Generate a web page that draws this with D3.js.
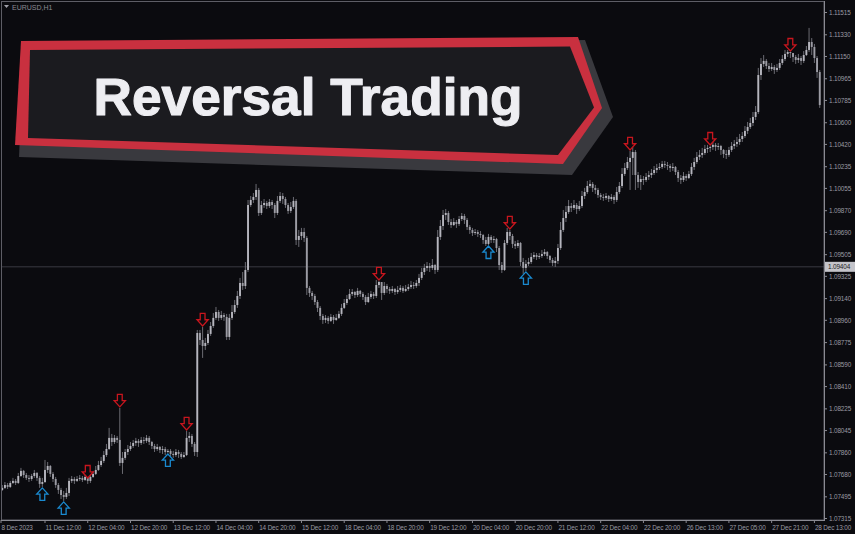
<!DOCTYPE html>
<html><head><meta charset="utf-8">
<script src="https://cdn.jsdelivr.net/npm/d3@7"></script>
<style>html,body{margin:0;padding:0;background:#0b0b0f;overflow:hidden}</style>
</head><body><svg id="c" width="855" height="534"></svg>
<script>
const symbolLabel = "EURUSD,H1";
const titleText = "Reversal Trading";

const opens = [1.07552,
1.07569,1.07593,1.07577,1.07610,1.07627,1.07610,1.07668,1.07710,1.07676,1.07652,
1.07643,1.07668,1.07693,1.07652,1.07602,1.07618,1.07718,1.07751,1.07685,1.07643,
1.07593,1.07552,1.07510,1.07494,1.07527,1.07627,1.07643,1.07627,1.07643,1.07652,
1.07635,1.07660,1.07627,1.07660,1.07685,1.07718,1.07759,1.07793,1.07842,1.07892,
1.07984,1.07950,1.07984,1.07967,1.07776,1.07818,1.07867,1.07892,1.07917,1.07942,
1.07959,1.07942,1.07967,1.07959,1.07984,1.07950,1.07917,1.07892,1.07909,1.07884,
1.07892,1.07867,1.07876,1.07851,1.07842,1.07867,1.07851,1.07826,1.07842,1.07984,
1.08000,1.07934,1.07867,1.08855,1.08797,1.08747,1.08772,1.08847,1.08913,1.08980,
1.09029,1.08980,1.09004,1.08988,1.08822,1.08980,1.09029,1.09087,1.09162,1.09270,
1.09245,1.09378,1.09917,1.09959,1.09984,1.10042,1.09851,1.09917,1.09934,1.09909,
1.09942,1.09917,1.09851,1.09951,1.09992,1.09967,1.09917,1.09868,1.09901,1.09951,
1.09627,1.09660,1.09693,1.09644,1.09229,1.09187,1.09162,1.09112,1.09063,1.08996,
1.08963,1.08980,1.08955,1.08988,1.08963,1.08980,1.09013,1.09063,1.09104,1.09137,
1.09179,1.09195,1.09170,1.09204,1.09179,1.09154,1.09112,1.09154,1.09179,1.09162,
1.09253,1.09278,1.09187,1.09245,1.09220,1.09204,1.09220,1.09195,1.09212,1.09229,
1.09204,1.09220,1.09237,1.09253,1.09245,1.09270,1.09312,1.09361,1.09395,1.09411,
1.09395,1.09419,1.09378,1.09652,1.09743,1.09834,1.09851,1.09776,1.09751,1.09776,
1.09760,1.09801,1.09826,1.09793,1.09735,1.09710,1.09685,1.09693,1.09677,1.09668,
1.09627,1.09594,1.09652,1.09627,1.09635,1.09560,1.09419,1.09378,1.09602,1.09693,
1.09660,1.09594,1.09577,1.09602,1.09444,1.09395,1.09428,1.09444,1.09486,1.09502,
1.09486,1.09494,1.09510,1.09527,1.09494,1.09461,1.09436,1.09453,1.09560,1.09710,
1.09809,1.09859,1.09909,1.09893,1.09917,1.09884,1.09909,1.09992,1.10025,1.10075,
1.10092,1.10059,1.10042,1.10000,1.09984,1.09976,1.09992,1.09967,1.09984,1.09959,
1.10025,1.10075,1.10175,1.10224,1.10274,1.10308,1.10357,1.10166,1.10108,1.10133,
1.10125,1.10150,1.10166,1.10183,1.10208,1.10224,1.10233,1.10258,1.10249,1.10241,
1.10224,1.10233,1.10191,1.10141,1.10125,1.10158,1.10141,1.10174,1.10233,1.10274,
1.10316,1.10333,1.10349,1.10382,1.10391,1.10399,1.10416,1.10399,1.10407,1.10374,
1.10341,1.10333,1.10374,1.10407,1.10424,1.10440,1.10465,1.10490,1.10532,1.10565,
1.10598,1.10648,1.10689,1.10996,1.11088,1.11113,1.11071,1.11046,1.11063,1.11038,
1.11055,1.11096,1.11129,1.11171,1.11187,1.11179,1.11146,1.11121,1.11137,1.11113,
1.11162,1.11204,1.11270,1.11229,1.11137,1.11021];

const closes = [
1.07569,1.07593,1.07577,1.07610,1.07627,1.07610,1.07668,1.07710,1.07676,1.07652,
1.07643,1.07668,1.07693,1.07652,1.07602,1.07618,1.07718,1.07751,1.07685,1.07643,
1.07593,1.07552,1.07510,1.07494,1.07527,1.07627,1.07643,1.07627,1.07643,1.07652,
1.07635,1.07660,1.07627,1.07660,1.07685,1.07718,1.07759,1.07793,1.07842,1.07892,
1.07984,1.07950,1.07984,1.07967,1.07776,1.07818,1.07867,1.07892,1.07917,1.07942,
1.07959,1.07942,1.07967,1.07959,1.07984,1.07950,1.07917,1.07892,1.07909,1.07884,
1.07892,1.07867,1.07876,1.07851,1.07842,1.07867,1.07851,1.07826,1.07842,1.07984,
1.08000,1.07934,1.07867,1.08855,1.08797,1.08747,1.08772,1.08847,1.08913,1.08980,
1.09029,1.08980,1.09004,1.08988,1.08822,1.08980,1.09029,1.09087,1.09162,1.09270,
1.09245,1.09378,1.09917,1.09959,1.09984,1.10042,1.09851,1.09917,1.09934,1.09909,
1.09942,1.09917,1.09851,1.09951,1.09992,1.09967,1.09917,1.09868,1.09901,1.09951,
1.09627,1.09660,1.09693,1.09644,1.09229,1.09187,1.09162,1.09112,1.09063,1.08996,
1.08963,1.08980,1.08955,1.08988,1.08963,1.08980,1.09013,1.09063,1.09104,1.09137,
1.09179,1.09195,1.09170,1.09204,1.09179,1.09154,1.09112,1.09154,1.09179,1.09162,
1.09253,1.09278,1.09187,1.09245,1.09220,1.09204,1.09220,1.09195,1.09212,1.09229,
1.09204,1.09220,1.09237,1.09253,1.09245,1.09270,1.09312,1.09361,1.09395,1.09411,
1.09395,1.09419,1.09378,1.09652,1.09743,1.09834,1.09851,1.09776,1.09751,1.09776,
1.09760,1.09801,1.09826,1.09793,1.09735,1.09710,1.09685,1.09693,1.09677,1.09668,
1.09627,1.09594,1.09652,1.09627,1.09635,1.09560,1.09419,1.09378,1.09602,1.09693,
1.09660,1.09594,1.09577,1.09602,1.09444,1.09395,1.09428,1.09444,1.09486,1.09502,
1.09486,1.09494,1.09510,1.09527,1.09494,1.09461,1.09436,1.09453,1.09560,1.09710,
1.09809,1.09859,1.09909,1.09893,1.09917,1.09884,1.09909,1.09992,1.10025,1.10075,
1.10092,1.10059,1.10042,1.10000,1.09984,1.09976,1.09992,1.09967,1.09984,1.09959,
1.10025,1.10075,1.10175,1.10224,1.10274,1.10308,1.10357,1.10166,1.10108,1.10133,
1.10125,1.10150,1.10166,1.10183,1.10208,1.10224,1.10233,1.10258,1.10249,1.10241,
1.10224,1.10233,1.10191,1.10141,1.10125,1.10158,1.10141,1.10174,1.10233,1.10274,
1.10316,1.10333,1.10349,1.10382,1.10391,1.10399,1.10416,1.10399,1.10407,1.10374,
1.10341,1.10333,1.10374,1.10407,1.10424,1.10440,1.10465,1.10490,1.10532,1.10565,
1.10598,1.10648,1.10689,1.10996,1.11088,1.11113,1.11071,1.11046,1.11063,1.11038,
1.11055,1.11096,1.11129,1.11171,1.11187,1.11179,1.11146,1.11121,1.11137,1.11113,
1.11162,1.11204,1.11270,1.11229,1.11137,1.11021,1.10747];

const highs = [
1.07593,1.07618,1.07610,1.07627,1.07652,1.07643,1.07693,1.07735,1.07718,1.07693,
1.07676,1.07685,1.07718,1.07701,1.07668,1.07652,1.07801,1.07784,1.07759,1.07701,
1.07660,1.07610,1.07569,1.07544,1.07569,1.07652,1.07668,1.07660,1.07668,1.07676,
1.07668,1.07685,1.07643,1.07676,1.07710,1.07751,1.07793,1.07826,1.07876,1.07934,
1.08067,1.08017,1.08008,1.08000,1.08233,1.07867,1.07892,1.07925,1.07950,1.07967,
1.07984,1.07975,1.07992,1.07992,1.08008,1.08000,1.07959,1.07934,1.07934,1.07917,
1.07917,1.07909,1.07892,1.07892,1.07876,1.07892,1.07884,1.07867,1.07867,1.08042,
1.08033,1.08017,1.07950,1.08880,1.08880,1.08905,1.08814,1.08880,1.08946,1.09021,
1.09071,1.09046,1.09038,1.09021,1.09013,1.09013,1.09087,1.09129,1.09204,1.09312,
1.09361,1.09444,1.09959,1.09992,1.10017,1.10092,1.10059,1.09951,1.09967,1.09951,
1.09967,1.09959,1.09934,1.09992,1.10025,1.10017,1.09984,1.09934,1.09942,1.09984,
1.09967,1.09710,1.09727,1.09727,1.09660,1.09245,1.09204,1.09179,1.09129,1.09079,
1.09013,1.09004,1.08996,1.09013,1.09004,1.09013,1.09038,1.09096,1.09137,1.09170,
1.09220,1.09220,1.09204,1.09229,1.09212,1.09195,1.09170,1.09187,1.09204,1.09195,
1.09295,1.09287,1.09270,1.09278,1.09262,1.09237,1.09245,1.09229,1.09245,1.09253,
1.09245,1.09253,1.09262,1.09287,1.09278,1.09295,1.09345,1.09395,1.09428,1.09444,
1.09436,1.09469,1.09428,1.09710,1.09793,1.09876,1.09884,1.09868,1.09801,1.09809,
1.09793,1.09826,1.09851,1.09843,1.09809,1.09751,1.09727,1.09718,1.09710,1.09701,
1.09677,1.09652,1.09677,1.09668,1.09660,1.09644,1.09577,1.09444,1.09627,1.09727,
1.09710,1.09677,1.09619,1.09627,1.09610,1.09478,1.09461,1.09478,1.09519,1.09527,
1.09519,1.09519,1.09544,1.09552,1.09535,1.09502,1.09478,1.09486,1.09594,1.09776,
1.09876,1.09909,1.09959,1.09934,1.09959,1.09934,1.09951,1.10034,1.10059,1.10117,
1.10125,1.10108,1.10084,1.10059,1.10017,1.10009,1.10017,1.10000,1.10009,1.10000,
1.10067,1.10108,1.10224,1.10266,1.10316,1.10366,1.10399,1.10374,1.10191,1.10166,
1.10158,1.10183,1.10200,1.10216,1.10241,1.10258,1.10266,1.10283,1.10283,1.10274,
1.10258,1.10266,1.10241,1.10208,1.10166,1.10191,1.10174,1.10200,1.10266,1.10308,
1.10357,1.10374,1.10391,1.10416,1.10416,1.10407,1.10440,1.10432,1.10432,1.10416,
1.10382,1.10374,1.10399,1.10440,1.10457,1.10482,1.10507,1.10523,1.10573,1.10606,
1.10640,1.10689,1.10739,1.11055,1.11137,1.11162,1.11129,1.11096,1.11096,1.11079,
1.11088,1.11129,1.11162,1.11204,1.11204,1.11187,1.11179,1.11162,1.11171,1.11154,
1.11195,1.11237,1.11387,1.11303,1.11254,1.11154,1.11038];

const lows = [
1.07544,1.07560,1.07560,1.07569,1.07602,1.07593,1.07602,1.07660,1.07652,1.07635,
1.07618,1.07627,1.07652,1.07627,1.07569,1.07577,1.07610,1.07693,1.07660,1.07618,
1.07569,1.07519,1.07477,1.07461,1.07477,1.07502,1.07610,1.07602,1.07618,1.07627,
1.07618,1.07627,1.07602,1.07610,1.07652,1.07676,1.07710,1.07743,1.07776,1.07826,
1.07884,1.07917,1.07934,1.07942,1.07751,1.07685,1.07801,1.07842,1.07876,1.07901,
1.07917,1.07909,1.07925,1.07934,1.07942,1.07925,1.07892,1.07867,1.07876,1.07859,
1.07851,1.07842,1.07859,1.07826,1.07818,1.07826,1.07818,1.07809,1.07818,1.07834,
1.07950,1.07909,1.07834,1.07826,1.08755,1.08648,1.08714,1.08755,1.08830,1.08897,
1.08963,1.08955,1.08963,1.08955,1.08797,1.08797,1.08963,1.09013,1.09063,1.09137,
1.09212,1.09220,1.09361,1.09901,1.09934,1.09959,1.09826,1.09834,1.09893,1.09884,
1.09893,1.09884,1.09809,1.09834,1.09934,1.09926,1.09893,1.09843,1.09851,1.09884,
1.09585,1.09569,1.09627,1.09610,1.09170,1.09154,1.09129,1.09087,1.09029,1.08963,
1.08930,1.08938,1.08930,1.08946,1.08930,1.08955,1.08971,1.08996,1.09054,1.09087,
1.09129,1.09162,1.09145,1.09154,1.09154,1.09129,1.09087,1.09104,1.09137,1.09137,
1.09145,1.09229,1.09129,1.09170,1.09187,1.09179,1.09187,1.09170,1.09179,1.09195,
1.09187,1.09195,1.09204,1.09220,1.09220,1.09229,1.09245,1.09295,1.09336,1.09370,
1.09361,1.09378,1.09345,1.09361,1.09627,1.09710,1.09793,1.09751,1.09727,1.09743,
1.09727,1.09743,1.09784,1.09760,1.09710,1.09677,1.09660,1.09668,1.09652,1.09644,
1.09594,1.09577,1.09585,1.09602,1.09602,1.09527,1.09378,1.09353,1.09370,1.09585,
1.09627,1.09560,1.09552,1.09560,1.09411,1.09345,1.09370,1.09411,1.09428,1.09469,
1.09461,1.09469,1.09478,1.09494,1.09469,1.09436,1.09411,1.09403,1.09428,1.09544,
1.09693,1.09776,1.09843,1.09859,1.09876,1.09843,1.09868,1.09893,1.09967,1.10009,
1.10059,1.10025,1.10009,1.09976,1.09959,1.09951,1.09959,1.09942,1.09951,1.09926,
1.09942,1.10009,1.10059,1.10158,1.10208,1.10042,1.10166,1.10042,1.10059,1.10042,
1.10084,1.10108,1.10125,1.10141,1.10166,1.10183,1.10208,1.10216,1.10224,1.10208,
1.10191,1.10200,1.10166,1.10108,1.10092,1.10108,1.10117,1.10133,1.10158,1.10208,
1.10258,1.10291,1.10308,1.10333,1.10349,1.10357,1.10374,1.10366,1.10374,1.10333,
1.10308,1.10299,1.10316,1.10357,1.10382,1.10399,1.10416,1.10440,1.10474,1.10507,
1.10548,1.10573,1.10623,1.10673,1.10955,1.11063,1.11046,1.11021,1.11030,1.11005,
1.11021,1.11038,1.11079,1.11113,1.11146,1.11137,1.11104,1.11088,1.11096,1.11079,
1.11096,1.11154,1.11187,1.11162,1.11096,1.10972,1.10723];

const xTickBars = [0,16,32,48,64,80,96,112,128,144,160,176,192,208,224,240,256,272,288,304];
const xTickLabels = ["8 Dec 2023","11 Dec 12:00","12 Dec 04:00","12 Dec 20:00","13 Dec 12:00",
"14 Dec 04:00","14 Dec 20:00","15 Dec 12:00","18 Dec 04:00","18 Dec 20:00","19 Dec 12:00",
"20 Dec 04:00","20 Dec 20:00","21 Dec 12:00","22 Dec 04:00","22 Dec 20:00","26 Dec 13:00",
"27 Dec 05:00","27 Dec 21:00","28 Dec 13:00"];
const yTickLabels = ["1.11515","1.11330","1.11150","1.10965","1.10785","1.10600","1.10420",
"1.10235","1.10055","1.09870","1.09690","1.09505","1.09325","1.09140","1.08960","1.08775",
"1.08590","1.08410","1.08225","1.08045","1.07860","1.07680","1.07495","1.07315"];
const currentPrice = 1.09404;
const sellSignalBars = [32,44,69,75,141,190,235,265,295];
const buySignalBars = [15,23,62,182,196];

const W = 855, H = 534;
const plotRight = 824, plotBottom = 520;
const svg = d3.select("#c");
svg.append("rect").attr("width", W).attr("height", H).attr("fill", "#0b0b0f");

const x = d3.scaleLinear().domain([16, 304]).range([45, 814.4]);
const y = d3.scaleLinear().domain([1.07315, 1.11515]).range([518.5, 12.5]);

const bars = closes.map((c, i) => ({i, o: opens[i], h: highs[i], l: lows[i], c}));

// current price line
svg.append("line").attr("x1", 1).attr("x2", plotRight).attr("y1", y(currentPrice)).attr("y2", y(currentPrice))
  .attr("stroke", "#3a3a42").attr("stroke-width", 1);

// candles
const cg = svg.append("g");
cg.selectAll("line.w").data(bars).join("line").attr("class", "w")
  .attr("x1", d => x(d.i)).attr("x2", d => x(d.i))
  .attr("y1", d => y(d.h)).attr("y2", d => y(d.l))
  .attr("stroke", "#76767e").attr("stroke-width", 0.9);
cg.selectAll("rect.b").data(bars).join("rect").attr("class", "b")
  .attr("x", d => x(d.i) - 0.95).attr("width", 1.9)
  .attr("y", d => Math.min(y(d.o), y(d.c)))
  .attr("height", d => Math.max(0.9, Math.abs(y(d.o) - y(d.c))))
  .attr("fill", d => d.c >= d.o ? "#b6b6be" : "#9c9ca4");

// signal arrows
const downArrow = "M-2.4,-12.5 L2.4,-12.5 L2.4,-6.2 L5.6,-6.2 L0,0 L-5.6,-6.2 L-2.4,-6.2 Z";
const upArrow = "M-2.4,12.5 L2.4,12.5 L2.4,6.2 L5.6,6.2 L0,0 L-5.6,6.2 L-2.4,6.2 Z";
svg.append("g").selectAll("path").data(sellSignalBars).join("path")
  .attr("d", downArrow)
  .attr("transform", i => `translate(${x(i)},${y(highs[i]) - 1})`)
  .attr("fill", "#0b0b0f").attr("stroke", "#c8161e").attr("stroke-width", 1.3);
svg.append("g").selectAll("path").data(buySignalBars).join("path")
  .attr("d", upArrow)
  .attr("transform", i => `translate(${x(i)},${y(lows[i]) + 1})`)
  .attr("fill", "#0b0b0f").attr("stroke", "#1a8ad0").attr("stroke-width", 1.3);

// frame
svg.append("rect").attr("x", 1.5).attr("y", 1.5).attr("width", plotRight - 1.5).attr("height", plotBottom - 1.5)
  .attr("fill", "none").attr("stroke", "#5e5e66").attr("stroke-width", 1);
svg.append("line").attr("x1", plotRight + 0.5).attr("x2", plotRight + 0.5).attr("y1", 1).attr("y2", plotBottom + 1)
  .attr("stroke", "#8a8a92");
svg.append("line").attr("x1", 1).attr("x2", plotRight + 1).attr("y1", plotBottom + 0.5).attr("y2", plotBottom + 0.5)
  .attr("stroke", "#8a8a92");

const font = "'Liberation Sans', Arial, sans-serif";
const fs = 6.4, ls = -0.15;
// y axis
const yg = svg.append("g");
yTickLabels.forEach(t => {
  const v = +t, yy = y(v);
  yg.append("line").attr("x1", plotRight).attr("x2", plotRight + 3).attr("y1", yy).attr("y2", yy).attr("stroke", "#8a8a92");
  yg.append("text").attr("x", plotRight + 5).attr("y", yy + 2.4).text(t)
    .attr("font-family", font).attr("font-size", fs).attr("letter-spacing", ls).attr("fill", "#9a9aa2");
});
// current price label
const cpy = y(currentPrice);
svg.append("rect").attr("x", plotRight + 1).attr("y", cpy - 5).attr("width", 30).attr("height", 10).attr("fill", "#c4c4ca");
svg.append("text").attr("x", plotRight + 4).attr("y", cpy + 2.4).text(currentPrice.toFixed(5))
  .attr("font-family", font).attr("font-size", fs).attr("letter-spacing", ls).attr("fill", "#1c1c22");

// x axis
const xg = svg.append("g");
xTickBars.forEach((b, k) => {
  const xx = k === 0 ? 1 : x(b);
  xg.append("line").attr("x1", xx).attr("x2", xx).attr("y1", plotBottom).attr("y2", plotBottom + 3).attr("stroke", "#8a8a92");
  xg.append("text").attr("x", xx + 0.5).attr("y", 529.5).text(xTickLabels[k])
    .attr("font-family", font).attr("font-size", fs).attr("letter-spacing", ls).attr("fill", "#9a9aa2");
});

// symbol label
svg.append("path").attr("d", "M4,5 L9,5 L6.5,8 Z").attr("fill", "#a0a0a8");
svg.append("text").attr("x", 12).attr("y", 9.5).text(symbolLabel)
  .attr("font-family", font).attr("font-size", 7).attr("fill", "#8a8a92");

// title banner
const line = d3.line();
svg.append("path").attr("d", line([[24,50],[585,40],[613,117],[572,175],[19,157]]) + "Z").attr("fill", "#39393e");
svg.append("path").attr("d", line([[21,41],[578,37],[602,108],[563,164],[15,145]]) + "Z").attr("fill", "#c9303f");
svg.append("path").attr("d", line([[30,50],[570,46.5],[594,107.5],[558,155],[28,138]]) + "Z").attr("fill", "#1b1b1f");
svg.append("text").attr("x", 93.5).attr("y", 114.5).text(titleText)
  .attr("font-family", font).attr("font-weight", "bold").attr("font-size", 52.6)
  .attr("textLength", 429).attr("lengthAdjust", "spacingAndGlyphs")
  .attr("fill", "#eeeef2").attr("stroke", "#eeeef2").attr("stroke-width", 1.1).attr("stroke-linejoin", "round");
</script>
</body></html>
